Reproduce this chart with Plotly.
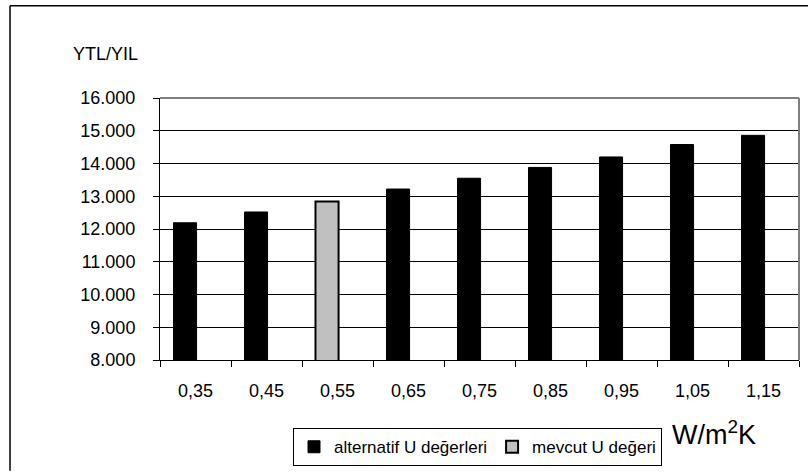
import plotly.graph_objects as go

categories = ["0,35", "0,45", "0,55", "0,65", "0,75", "0,85", "0,95", "1,05", "1,15"]
alternatif = [12190, 12520, None, 13220, 13550, 13880, 14200, 14580, 14860]
mevcut = [None, None, 12840, None, None, None, None, None, None]
y_ticks = [8000, 9000, 10000, 11000, 12000, 13000, 14000, 15000, 16000]

FONT = "Liberation Sans, Arial, sans-serif"

fig = go.Figure()
fig.add_trace(go.Bar(
    x=categories, y=alternatif, name="alternatif U değerleri",
    marker=dict(color="#000000", line=dict(color="#000000", width=1)),
    width=0.325, offset=-0.31,
))
fig.add_trace(go.Bar(
    x=categories, y=mevcut, name="mevcut U değeri",
    marker=dict(color="#C0C0C0", line=dict(color="#000000", width=2)),
    width=0.325, offset=-0.31,
))

L, R, T, B = 160, 9, 98, 112
W, H = 808, 475
pw, ph = W - L - R, H - T - B

def px(x):
    return (x - L) / pw

def py(y):
    return (H - B - y) / ph

fig.update_layout(
    width=W, height=H,
    margin=dict(l=L, r=R, t=T, b=B, pad=0),
    paper_bgcolor="white", plot_bgcolor="white",
    barmode="overlay",
    separators=",.",
    font=dict(family=FONT, size=18, color="black"),
    showlegend=True,
    legend=dict(
        orientation="h", x=px(293), xanchor="left", y=py(432), yanchor="top",
        bordercolor="black", borderwidth=1, bgcolor="white",
        font=dict(family=FONT, size=17, color="black"),
        itemwidth=30, traceorder="normal",
    ),
    xaxis=dict(
        type="category", showline=True, linecolor="black", linewidth=1,
        ticks="outside", ticklen=6, tickcolor="black", tickson="boundaries",
        ticklabelstandoff=14, showgrid=False, zeroline=False,
        tickfont=dict(family=FONT, size=18),
    ),
    yaxis=dict(
        range=[8000, 16000], tickvals=y_ticks, tickformat=",d",
        showline=True, linecolor="black", linewidth=1,
        ticks="outside", ticklen=6, tickcolor="black",
        showgrid=True, gridcolor="black", gridwidth=1, zeroline=False,
        ticklabelstandoff=14,
        tickfont=dict(family=FONT, size=18),
    ),
    annotations=[
        dict(text="YTL/YIL", xref="paper", yref="paper", x=px(105.5), y=py(53),
             xanchor="center", yanchor="middle", showarrow=False,
             font=dict(family=FONT, size=18)),
        dict(text="W/m<sup>2</sup>K", xref="paper", yref="paper", x=px(714), y=py(437),
             xanchor="center", yanchor="middle", showarrow=False,
             font=dict(family=FONT, size=27)),
    ],
    shapes=[
        # plot-area border (top & right, gray)
        dict(type="line", xref="paper", yref="paper", x0=0, x1=1, y0=1, y1=1,
             line=dict(color="#808080", width=2)),
        dict(type="line", xref="paper", yref="paper", x0=1, x1=1, y0=0, y1=1,
             line=dict(color="#808080", width=2)),
        # outer chart border (top & left)
        dict(type="line", xref="paper", yref="paper", x0=px(10), x1=px(808), y0=py(4.7), y1=py(4.7),
             line=dict(color="black", width=1.5)),
        dict(type="line", xref="paper", yref="paper", x0=px(10), x1=px(10), y0=py(4.7), y1=py(475),
             line=dict(color="black", width=1.5)),
    ],
)

fig.write_html("out.html", config={"displayModeBar": False},
               post_script="document.body.style.margin='0';")
